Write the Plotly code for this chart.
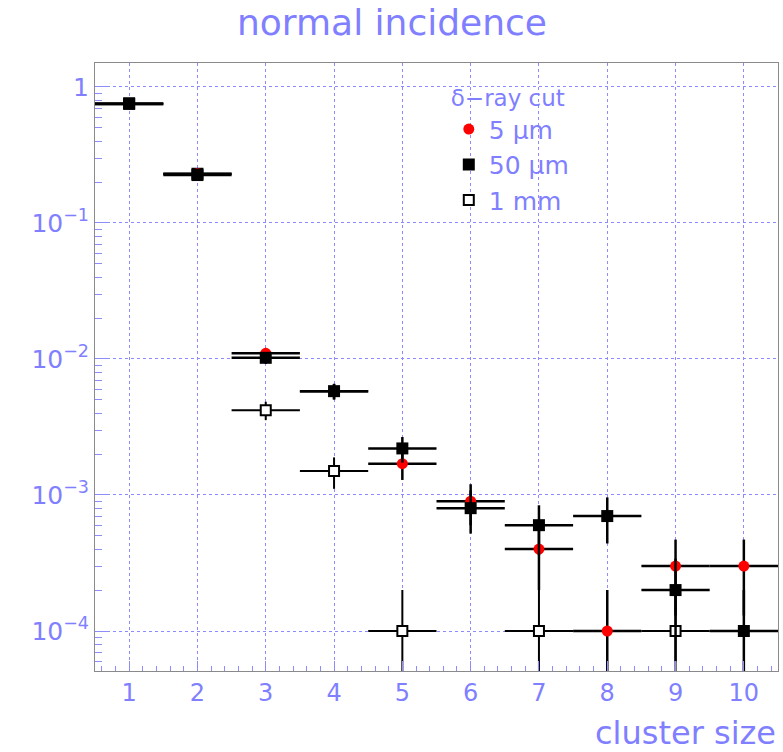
import plotly.graph_objects as go

# ---- data ----
cluster_size = [1, 2, 3, 4, 5, 6, 7, 8, 9, 10]

val_5um = [0.75, 0.23, 0.011, 0.0058, 0.0017, 0.0009, 0.0004, 0.0001, 0.0003, 0.0003]
err_5um = [0.0087, 0.0048, 0.00105, 0.00076, 0.00041, 0.0003, 0.0002, 0.0001, 0.00017, 0.00017]

val_50um = [0.75, 0.225, 0.0102, 0.0058, 0.0022, 0.0008, 0.0006, 0.0007, 0.0002, 0.0001]
err_50um = [0.0087, 0.0047, 0.0010, 0.00076, 0.00047, 0.00028, 0.00024, 0.00026, 0.00014, 0.0001]

x_1mm = [1, 2, 3, 4, 5, 7, 9]
val_1mm = [0.76, 0.23, 0.0042, 0.0015, 0.0001, 0.0001, 0.0001]
err_1mm = [0.0087, 0.0048, 0.00065, 0.00039, 0.0001, 0.0001, 0.0001]

bin_half_width = 0.5

y_tickvals = [1, 0.1, 0.01, 0.001, 0.0001]
y_ticktext = ["1", "10<sup>−1</sup>", "10<sup>−2</sup>", "10<sup>−3</sup>", "10<sup>−4</sup>"]
x_tickvals = [1, 2, 3, 4, 5, 6, 7, 8, 9, 10]

BLUE = "#7f7fff"
GRID = "#8c8cff"
FONT = "DejaVu Sans"

fig = go.Figure()


def add_series(x, y, e, name, symbol, size, color, line_color, line_width, ebw, rank):
    fig.add_trace(go.Scatter(
        x=x, y=y, mode="markers", name=name, legendrank=rank,
        marker=dict(symbol=symbol, size=size, color=color,
                    line=dict(color=line_color, width=line_width)),
        error_y=dict(type="data", array=e, visible=True, color="black",
                     thickness=ebw, width=0),
        error_x=dict(type="constant", value=bin_half_width, visible=True,
                     color="black", thickness=ebw, width=0),
    ))


# drawing order: 1 mm underneath, then 5 um, then 50 um on top
add_series(x_1mm, val_1mm, err_1mm, "1 mm", "square", 10, "white", "black", 2, 2, 3)
add_series(cluster_size, val_5um, err_5um, "5 μm", "circle", 11, "red", "red", 0, 2.5, 1)
add_series(cluster_size, val_50um, err_50um, "50 μm", "square", 12, "black", "black", 0, 2.5, 2)

fig.update_layout(
    width=783, height=752,
    margin=dict(l=95, r=5, t=63, b=81),
    paper_bgcolor="white", plot_bgcolor="white",
    font=dict(family=FONT, color=BLUE),
    showlegend=True,
    legend=dict(
        x=0.518, y=0.978, xanchor="left", yanchor="top",
        bgcolor="rgba(0,0,0,0)", borderwidth=0,
        font=dict(size=25, color=BLUE, family=FONT),
        title=dict(text="δ−ray cut", font=dict(size=23, color=BLUE, family=FONT)),
        itemsizing="trace", tracegroupgap=0, traceorder="normal",
    ),
    xaxis=dict(
        range=[0.5, 10.5], tickvals=x_tickvals,
        showgrid=True, gridcolor=GRID, griddash="dot", gridwidth=1,
        showline=True, linecolor="#8a8a8a", linewidth=1, mirror=True,
        ticks="inside", ticklen=10, tickcolor=GRID, tickwidth=1,
        minor=dict(dtick=0.2, ticks="inside", ticklen=5, tickcolor=GRID, showgrid=False),
        tickfont=dict(size=24, color=BLUE, family=FONT),
        zeroline=False,
    ),
    yaxis=dict(
        type="log", range=[-4.294, 0.176],
        tickvals=y_tickvals, ticktext=y_ticktext,
        showgrid=True, gridcolor=GRID, griddash="dot", gridwidth=1,
        showline=True, linecolor="#8a8a8a", linewidth=1, mirror=True,
        ticks="inside", ticklen=15, tickcolor=GRID, tickwidth=1,
        minor=dict(dtick="D1", ticks="inside", ticklen=7, tickcolor=GRID, showgrid=False),
        tickfont=dict(size=25, color=BLUE, family=FONT),
        zeroline=False,
    ),
    annotations=[
        dict(text="normal incidence", xref="paper", yref="paper",
             x=0.435, y=1.0, yshift=41, xanchor="center", yanchor="middle",
             showarrow=False, font=dict(size=36, color=BLUE, family=FONT)),
        dict(text="cluster size", xref="paper", yref="paper",
             x=1.0, y=0.0, yshift=-62, xanchor="right", yanchor="middle",
             showarrow=False, font=dict(size=32, color=BLUE, family=FONT)),
    ],
)

fig.write_html("out.html")
